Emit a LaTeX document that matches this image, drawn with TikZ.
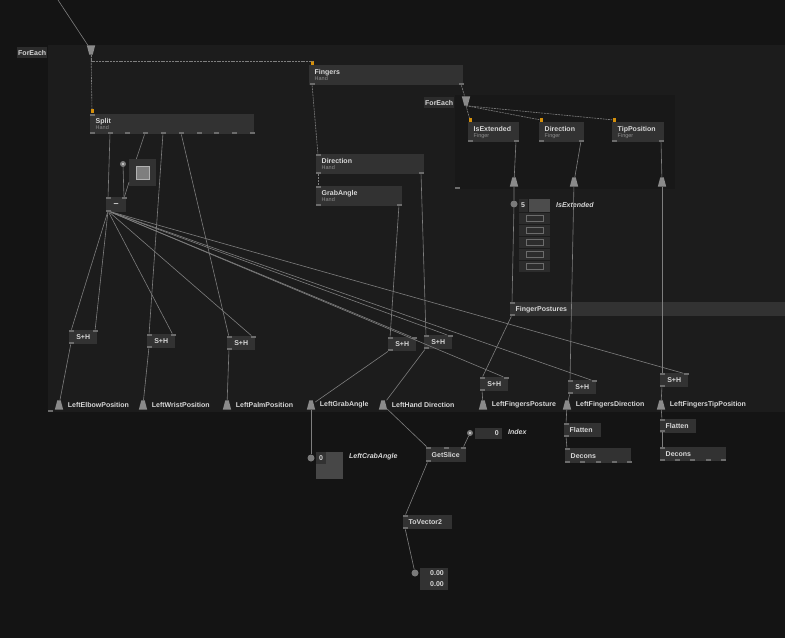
\documentclass[tikz,border=0pt]{standalone}
\usepackage{fontspec}
\setmainfont{Liberation Sans}
\usetikzlibrary{positioning}

\definecolor{canvas}{HTML}{141414}
\definecolor{patchbg}{HTML}{1C1C1C}
\definecolor{innerbg}{HTML}{181818}
\definecolor{nodebg}{HTML}{323232}
\definecolor{linkcol}{HTML}{7E7E7E}
\definecolor{portcol}{HTML}{6C6C6C}
\definecolor{padcol}{HTML}{8A8A8A}
\definecolor{dotcol}{HTML}{7A7A7A}
\definecolor{titlecol}{HTML}{D8D8D8}
\definecolor{subcol}{HTML}{8E8E8E}
\definecolor{amber}{HTML}{D4900C}
\definecolor{labelbg}{HTML}{2C2C2C}

\newcommand{\hsub}[1]{\\[-1.5pt]{\fontsize{5.5}{5.5}\selectfont\mdseries\color{subcol}#1}}

\begin{document}
\begin{tikzpicture}[x=1pt, y=-1pt,
    link/.style={draw=linkcol, line width=0.6pt},
    dlink/.style={link, dash pattern=on 2pt off 0.8pt},
    opnode/.style={fill=nodebg, anchor=north west, inner xsep=5.5pt, inner ysep=0pt, align=left,
      text=titlecol, font=\fontsize{7}{7.5}\selectfont\bfseries},
    shnode/.style={fill=nodebg, anchor=north west, inner sep=0pt, minimum width=28pt,
      minimum height=14pt, text=titlecol, font=\fontsize{7}{7.5}\selectfont\bfseries},
    port/.style={fill=portcol, minimum width=5pt, minimum height=2.5pt, inner sep=0pt},
    oport/.style={fill=amber, minimum width=3pt, minimum height=4pt, inner sep=0pt},
    pad/.style={inner sep=0pt, minimum width=8pt, minimum height=9pt},
    padlabel/.style={text=titlecol, inner sep=0pt, font=\fontsize{7}{7.5}\selectfont\bfseries},
    ioname/.style={text=titlecol, anchor=west, inner sep=0pt, font=\fontsize{7}{7.5}\selectfont\bfseries\itshape},
    ioval/.style={text=titlecol, inner sep=0pt, font=\fontsize{7}{7.5}\selectfont\bfseries},
    dot/.style={circle, fill=dotcol, minimum size=7pt, inner sep=0pt},
    feach/.style={fill=labelbg, anchor=north west, minimum height=11pt, inner xsep=1pt,
      inner ysep=0pt, text=titlecol, font=\fontsize{7}{7.5}\selectfont\bfseries}]

  \useasboundingbox (0,0) rectangle (785,638);
  \fill[canvas] (0,0) rectangle (785,638);
  \fill[patchbg] (48,45) rectangle (785,412);
  \fill[innerbg] (455,95) rectangle (675,189);

  % regions
  \node[feach] (fe-outer) at (17,47) {ForEach};
  \node[feach] (fe-inner) at (424,97) {ForEach};
  \node[port] (fe-outer-p) at (50,411) {};
  \node[port] (fe-inner-p) at (457,188) {};
  \coordinate (src) at (58,0);
  \foreach \nm/\px/\py in {spl-top/91/50,spl-in/466/101} {
    \node[pad] (\nm) at (\px,\py) {};
    \fill[padcol] (\nm.north west) -- (\nm.north east) -- ([xshift=-2.5pt]\nm.south east)
      -- ([xshift=2.5pt]\nm.south west) -- cycle;
  }

  % hand nodes
  \node[opnode, text width=153pt, minimum height=20pt] (split) at (90,114) {Split\hsub{Hand}};
  \node[oport] (split-in) at (92,111) {};
  \node[port] (split-i) at (92,115) {};
  \foreach \px [count=\k] in {92,110,127,145,163,181,199,216,234,252}
    \node[port] (split-o\k) at (\px,133) {};

  \node[opnode, text width=143pt, minimum height=20pt] (fingers) at (309,65) {Fingers\hsub{Hand}};
  \node[oport] (fin-in) at (312,63) {};
  \node[port] (fin-o1) at (312,84) {};
  \node[port] (fin-o2) at (461,84) {};

  \node[opnode, text width=97pt, minimum height=20pt] (dirhand) at (316,154) {Direction\hsub{Hand}};
  \node[port] (dh-i) at (318,155) {};
  \node[port] (dh-o1) at (318,173) {};
  \node[port] (dh-o2) at (421,173) {};

  \node[opnode, text width=75pt, minimum height=20pt] (grab) at (316,186) {GrabAngle\hsub{Hand}};
  \node[port] (ga-i) at (318,187) {};
  \node[port] (ga-o1) at (318,205) {};
  \node[port] (ga-o2) at (399,205) {};

  % finger nodes
  \node[opnode, text width=40pt, minimum height=20pt] (isext) at (468,122) {IsExtended\hsub{Finger}};
  \node[oport] (ie-in) at (470,120) {};
  \node[port] (ie-o1) at (470,141) {};
  \node[port] (ie-o) at (516,141) {};
  \node[opnode, text width=34pt, minimum height=20pt] (dirfinger) at (539,122) {Direction\hsub{Finger}};
  \node[oport] (df-in) at (541,120) {};
  \node[port] (df-o1) at (541,141) {};
  \node[port] (df-o) at (581,141) {};
  \node[opnode, text width=41pt, minimum height=20pt] (tippos) at (612,122) {TipPosition\hsub{Finger}};
  \node[oport] (tp-in) at (614,120) {};
  \node[port] (tp-o1) at (614,141) {};
  \node[port] (tp-o) at (661,141) {};

  \foreach \nm/\px in {spl-ie/514,spl-df/574,spl-tp/662} {
    \node[pad] (\nm) at (\px,182) {};
    \fill[padcol] (\nm.south west) -- (\nm.south east) -- ([xshift=-2.5pt]\nm.north east)
      -- ([xshift=2.5pt]\nm.north west) -- cycle;
  }

  \node[opnode, text width=269pt, minimum height=14pt] (postures) at (510,302) {FingerPostures};
  \node[port] (fp-i) at (512,303) {};
  \node[port] (fp-o) at (512,315) {};

  % toggle and minus
  \node[shnode, minimum width=20pt, minimum height=15pt, font=\fontsize{9}{9}\selectfont\bfseries] (minus) at (106,197) {\textendash};
  \node[port] (mi-i1) at (108,198) {};
  \node[port] (mi-i2) at (124,198) {};
  \node[port] (mi-o) at (108,211) {};
  \node[fill=nodebg, anchor=north west, minimum size=27pt, inner sep=0pt] (tgbox) at (129,159) {};
  \node[fill=padcol!110, draw=gray!60, minimum size=13pt, inner sep=0pt] at (tgbox) {};
  \node[dot, minimum size=6pt] (tg-dot) at (123,164) {};
  \fill[gray!30] (tg-dot) circle (1.2pt);

  % bool array
  \node[dot] (ie-dot) at (514,204) {};
  \fill[labelbg] (519,199) rectangle (528,212);
  \fill[black!70] (529,199) rectangle (550,212);
  \node[ioval] at (523,205.5) {5};
  \foreach \i in {0,...,4} {
    \fill[labelbg] (519,{212.5+12*\i}) rectangle (550,{223.5+12*\i});
    \draw[portcol, line width=0.6pt] (526,{215+12*\i}) rectangle (543,{221+12*\i});
  }
  \node[ioname] at (556,205) {IsExtended};

  % sample and hold
  \foreach \n/\x/\y in {sh1/69/330,sh2/147/334,sh3/227/336,sh4/388/337,sh5/424/335,sh6/480/377,sh7/568/380,sh8/660/373} {
    \node[shnode] (\n) at (\x,\y) {S+H};
    \node[port] (\n-i1) at (\x+2,\y+1) {};
    \node[port] (\n-i2) at (\x+26,\y+1) {};
    \node[port] (\n-o) at (\x+2,\y+13) {};
  }

  % pads
  \foreach \px/\nm/\txt in {59/pd1/LeftElbowPosition,143/pd2/LeftWristPosition,227/pd3/LeftPalmPosition,311/pd4/LeftGrabAngle,383/pd5/LeftHand Direction,483/pd6/LeftFingersPosture,567/pd7/LeftFingersDirection,661/pd8/LeftFingersTipPosition} {
    \node[pad] (\nm) at (\px,405) {};
    \fill[padcol] (\nm.south west) -- (\nm.south east) -- ([xshift=-2.5pt]\nm.north east)
      -- ([xshift=2.5pt]\nm.north west) -- cycle;
    \node[padlabel, right=4.5pt of \nm] {\txt};
  }

  % below the patch
  \node[opnode, text width=26pt, minimum height=14pt] (flat1) at (564,423) {Flatten};
  \node[port] (fl1-i) at (566,424) {};
  \node[port] (fl1-o) at (566,436) {};
  \node[opnode, text width=55pt, minimum height=15pt] (decons1) at (565,448) {Decons};
  \node[port] (dc1-i) at (567,449) {};
  \foreach \px in {567,582,598,614,629} \node[port] at (\px,462) {};
  \node[opnode, text width=25pt, minimum height=14pt] (flat2) at (660,419) {Flatten};
  \node[port] (fl2-i) at (662,420) {};
  \node[port] (fl2-o) at (662,431) {};
  \node[opnode, text width=55pt, minimum height=14pt] (decons2) at (660,447) {Decons};
  \node[port] (dc2-i) at (662,448) {};
  \foreach \px in {662,677,692,708,723} \node[port] at (\px,460) {};

  \node[opnode, text width=29pt, minimum height=15pt] (getslice) at (426,447) {GetSlice};
  \node[port] (gs-i1) at (428,448) {};
  \node[port] (gs-i2) at (446,448) {};
  \node[port] (gs-i3) at (463,448) {};
  \node[port] (gs-o) at (428,461) {};
  \node[opnode, text width=38pt, minimum height=14pt] (tovec) at (403,515) {ToVector2};
  \node[port] (tv-i) at (405,516) {};
  \node[port] (tv-o) at (405,528) {};

  \node[dot] (crab-dot) at (311,458) {};
  \fill[black!72] (316,452) rectangle (343,479);
  \fill[nodebg] (316,452) rectangle (326,464);
  \node[ioval] at (321,458.5) {0};
  \node[ioname] at (349,457) {LeftCrabAngle};

  \node[dot, minimum size=6pt] (idx-dot) at (470,433) {};
  \fill[gray!30] (idx-dot) circle (1.2pt);
  \fill[nodebg] (475,428) rectangle (502,439);
  \node[ioval, anchor=east] at (499,433.5) {0};
  \node[ioname] at (508,432) {Index};

  \node[dot] (vec-dot) at (415,573) {};
  \fill[nodebg] (420,568) rectangle (448,590);
  \node[ioval, anchor=east] at (444,573.5) {0.00};
  \node[ioval, anchor=east] at (444,584.5) {0.00};

  % links
  \draw[link] (src) -- (spl-top);
  \draw[dlink] (spl-top) -- (split-in);
  \draw[dlink] (spl-top.south) |- (fin-in.north);
  \draw[dlink] (fin-o1) -- (dh-i);
  \draw[dlink] (dh-o1) -- (ga-i);
  \draw[dlink] (fin-o2) -- (spl-in);
  \foreach \t in {ie-in,df-in,tp-in}
    \draw[dlink] (spl-in.south) -- (\t);
  \draw[link] (ie-o) -- (spl-ie);
  \draw[link] (df-o) -- (spl-df);
  \draw[link] (tp-o) -- (spl-tp);
  \draw[link] (spl-ie) -- (ie-dot) -- (fp-i);
  \draw[link] (spl-df) -- (sh7-i1);
  \draw[link] (spl-tp) -- (sh8-i1);
  \draw[link] (fp-o) -- (sh6-i1);

  \draw[link] (split-o2) -- (mi-i1);
  \draw[link] (split-o4) -- (tgbox.115);
  \draw[link] (tgbox.215) -- (mi-i2);
  \draw[link] (tg-dot) -- (mi-i2);
  \draw[link] (split-o5) -- (sh2-i1);
  \draw[link] (split-o6) -- (sh3-i1);
  \foreach \t in {sh1-i1,sh1-i2,sh2-i2,sh3-i2,sh4-i2,sh5-i2,sh6-i2,sh7-i2,sh8-i2}
    \draw[link] (mi-o) -- (\t);
  \draw[link] (ga-o2) -- (sh4-i1);
  \draw[link] (dh-o2) -- (sh5-i1);
  \foreach \k in {1,...,8}
    \draw[link] (sh\k-o) -- (pd\k);

  \draw[link] (pd4) -- (crab-dot);
  \draw[link] (pd5) -- (gs-i1);
  \draw[link] (idx-dot) -- (gs-i3);
  \draw[link] (gs-o) -- (tv-i);
  \draw[link] (tv-o) -- (vec-dot);
  \draw[link] (pd7) -- (fl1-i);
  \draw[link] (fl1-o) -- (dc1-i);
  \draw[link] (pd8) -- (fl2-i);
  \draw[link] (fl2-o) -- (dc2-i);
\end{tikzpicture}
\end{document}
